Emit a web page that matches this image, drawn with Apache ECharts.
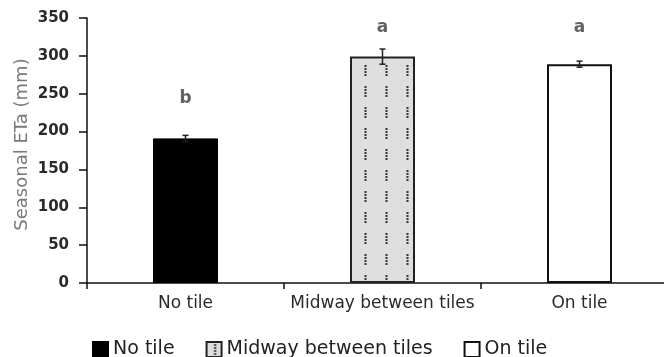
<!DOCTYPE html>
<html>
<head>
<meta charset="utf-8">
<script src="https://cdn.jsdelivr.net/npm/echarts@6/dist/echarts.min.js"></script>
<style>
  html, body { margin: 0; padding: 0; background: #fff; overflow: hidden; }
  #chart { width: 692px; height: 357px; }
</style>
</head>
<body>
<div id="chart"></div>
<script>
// Treatments and seasonal actual evapotranspiration (mm)
var categories = ['No tile', 'Midway between tiles', 'On tile'];
var seriesNames = ['No tile', 'Midway between tiles', 'On tile'];
var etaValues = [191, 299, 289];
var etaErrors = [4, 10, 4];
// Significance letters and the height they sit at
var letters = ['b', 'a', 'a'];
var letterHeights = [244, 338, 338];
var yTicks = { min: 0, max: 350, interval: 50 };

var FONT = 'DejaVu Sans';

// Light grey fill with short columns of dots
function dotPattern() {
  var c = document.createElement('canvas');
  c.width = 21; c.height = 21;
  var g = c.getContext('2d');
  g.fillStyle = '#dedede';
  g.fillRect(0, 0, 21, 21);
  g.fillStyle = '#333333';
  for (var k = 0; k < 4; k++) {
    g.fillRect(7.5, 2 + k * 3, 2, 2);
  }
  return c;
}

var fills = [
  { color: '#000000', borderColor: '#000000', borderWidth: 1 },
  { color: { image: dotPattern(), repeat: 'repeat' }, borderColor: '#222', borderWidth: 2 },
  { color: '#ffffff', borderColor: '#111', borderWidth: 2 }
];

var barSeries = seriesNames.map(function (name, i) {
  return {
    name: name,
    type: 'bar',
    barWidth: 65,
    barGap: '-100%',
    itemStyle: fills[i],
    data: categories.map(function (c, j) { return j === i ? etaValues[i] : '-'; }),
    z: 2
  };
});

var errorSeries = {
  type: 'custom',
  name: 'err',
  data: etaValues.map(function (v, i) { return [i, v - etaErrors[i], v + etaErrors[i]]; }),
  renderItem: function (params, api) {
    var lo = api.coord([api.value(0), api.value(1)]);
    var hi = api.coord([api.value(0), api.value(2)]);
    var hw = 3;
    var style = { stroke: '#222', lineWidth: 1.5 };
    return {
      type: 'group',
      children: [
        { type: 'line', shape: { x1: lo[0], y1: lo[1], x2: hi[0], y2: hi[1] }, style: style },
        { type: 'line', shape: { x1: lo[0] - hw, y1: lo[1], x2: lo[0] + hw, y2: lo[1] }, style: style },
        { type: 'line', shape: { x1: hi[0] - hw, y1: hi[1], x2: hi[0] + hw, y2: hi[1] }, style: style }
      ]
    };
  },
  z: 5
};

var letterSeries = {
  type: 'scatter',
  name: 'letters',
  symbolSize: 0,
  data: letterHeights.map(function (h, i) { return [i, h]; }),
  label: {
    show: true,
    position: 'inside',
    formatter: function (p) { return letters[p.dataIndex]; },
    fontFamily: FONT,
    fontSize: 17,
    fontWeight: 'bold',
    color: '#3a3a3a'
  },
  z: 6
};

var chart = echarts.init(document.getElementById('chart'));
chart.setOption({
  animation: false,
  backgroundColor: '#ffffff',
  // plot area runs past the right edge of the visible window
  grid: { left: 87, top: 18, width: 591, height: 265 },
  legend: {
    data: seriesNames,
    left: 87,
    top: 335,
    itemWidth: 15,
    itemHeight: 15,
    itemGap: 31,
    icon: 'rect',
    textStyle: { fontFamily: FONT, fontSize: 19, color: '#222' }
  },
  xAxis: {
    type: 'category',
    data: categories,
    axisLine: { lineStyle: { color: '#111', width: 1.5 } },
    axisTick: { show: true, interval: 0, length: 6, lineStyle: { color: '#111', width: 1.5 } },
    axisLabel: { interval: 0, fontFamily: FONT, fontSize: 17, color: '#2a2a2a', margin: 12 }
  },
  yAxis: {
    type: 'value',
    min: yTicks.min,
    max: yTicks.max,
    interval: yTicks.interval,
    name: 'Seasonal ETa (mm)',
    nameLocation: 'middle',
    nameGap: 56,
    nameMoveOverlap: false,
    nameTextStyle: { fontFamily: FONT, fontSize: 18, color: '#7a7a7a', padding: [0, 0, 0, 12] },
    splitLine: { show: false },
    axisLine: { show: true, lineStyle: { color: '#111', width: 1.5 } },
    axisTick: { show: true, length: 8, lineStyle: { color: '#111', width: 1.5 } },
    axisLabel: { fontFamily: FONT, fontSize: 15, fontWeight: 'bold', color: '#2a2a2a', margin: 18 }
  },
  series: barSeries.concat([errorSeries, letterSeries])
});
</script>
</body>
</html>
